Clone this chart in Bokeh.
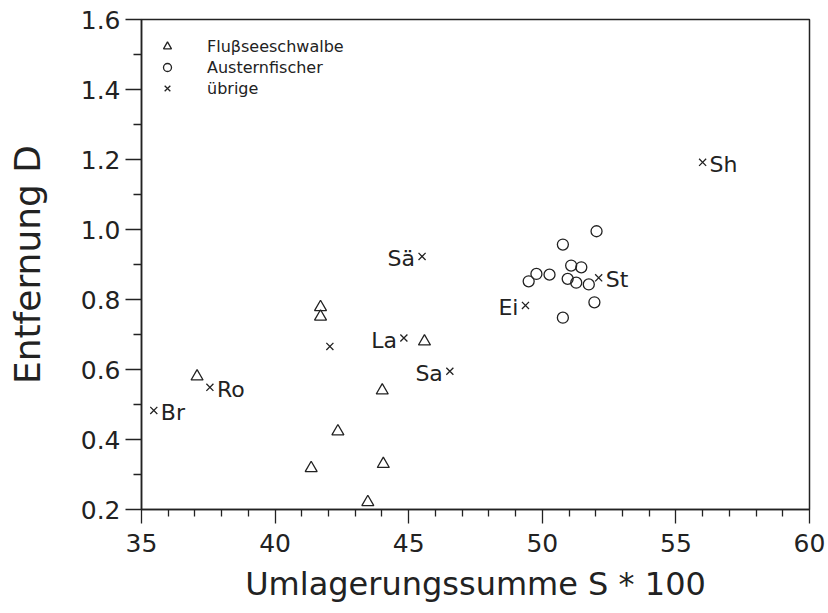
from bokeh.plotting import figure
from bokeh.models import FixedTicker, PrintfTickFormatter, Legend, LegendItem, Range1d
from bokeh.core.properties import value
from bokeh.embed import file_html
from bokeh.resources import INLINE

# --- data ---
tern_x = [37.08, 41.70, 41.70, 45.59, 44.01, 42.35, 41.35, 44.05, 43.47]
tern_y = [0.580, 0.778, 0.751, 0.680, 0.540, 0.423, 0.318, 0.330, 0.221]

oyster_x = [52.03, 50.77, 51.08, 51.46, 49.49, 49.78, 50.27, 50.95, 51.27, 51.74, 51.95, 50.77]
oyster_y = [0.995, 0.957, 0.897, 0.892, 0.852, 0.873, 0.871, 0.859, 0.848, 0.843, 0.792, 0.748]

other_x = [35.46, 37.56, 42.05, 44.82, 46.54, 45.50, 49.37, 52.11, 56.00]
other_y = [0.483, 0.549, 0.666, 0.690, 0.595, 0.923, 0.783, 0.862, 1.192]
other_names = ["Br", "Ro", "", "La", "Sa", "Sä", "Ei", "St", "Sh"]
label_right = [True, True, True, False, False, False, False, True, True]

x_ticks = [35, 40, 45, 50, 55, 60]
y_ticks = [0.2, 0.4, 0.6, 0.8, 1.0, 1.2, 1.4, 1.6]
x_minor = [36, 37, 38, 39, 41, 42, 43, 44, 46, 47, 48, 49, 51, 52, 53, 54, 56, 57, 58, 59]
y_minor = [0.3, 0.5, 0.7, 0.9, 1.1, 1.3, 1.5]

series_names = ["Flu\u03b2seeschwalbe", "Austernfischer", "übrige"]
x_title = "Umlagerungssumme S * 100"
y_title = "Entfernung D"

FONT = "DejaVu Sans"
INK = "#222222"

p = figure(width=828, height=613, output_backend="svg", toolbar_location=None,
           x_range=Range1d(35, 60), y_range=Range1d(0.2, 1.6))
p.min_border_left = 141
p.min_border_right = 19
p.min_border_top = 19
p.min_border_bottom = 104
p.background_fill_color = "white"
p.border_fill_color = "white"
p.outline_line_color = INK
p.outline_line_width = 1.5
p.xgrid.visible = False
p.ygrid.visible = False

r_tern = p.scatter(tern_x, tern_y, marker="triangle", size=12, fill_color=None,
                   line_color=INK, line_width=1.3)
r_oys = p.scatter(oyster_x, oyster_y, marker="circle", size=11, fill_color=None,
                  line_color=INK, line_width=1.3)
r_oth = p.scatter(other_x, other_y, marker="x", size=10, line_color=INK, line_width=1.3)

rx = [x for x, n, r in zip(other_x, other_names, label_right) if r and n]
ry = [y for y, n, r in zip(other_y, other_names, label_right) if r and n]
rn = [n for n, r in zip(other_names, label_right) if r and n]
lx = [x for x, n, r in zip(other_x, other_names, label_right) if (not r) and n]
ly = [y for y, n, r in zip(other_y, other_names, label_right) if (not r) and n]
ln = [n for n, r in zip(other_names, label_right) if (not r) and n]

p.text(x=rx, y=ry, text=rn, x_offset=7, y_offset=2, text_align="left", text_baseline="middle",
       text_font=value(FONT), text_font_size="22px", text_color=INK)
p.text(x=lx, y=ly, text=ln, x_offset=-7, y_offset=2, text_align="right", text_baseline="middle",
       text_font=value(FONT), text_font_size="22px", text_color=INK)

for ax in (p.xaxis[0], p.yaxis[0]):
    ax.axis_line_color = INK
    ax.axis_line_width = 1.5
    ax.major_tick_line_color = INK
    ax.minor_tick_line_color = INK
    ax.major_tick_line_width = 1.3
    ax.minor_tick_line_width = 1.3
    ax.major_tick_in = 0
    ax.minor_tick_in = 0
    ax.major_label_text_font = FONT
    ax.major_label_text_font_size = "25px"
    ax.major_label_text_color = INK
    ax.axis_label_text_font = FONT
    ax.axis_label_text_font_style = "normal"
    ax.axis_label_text_color = INK

p.xaxis.axis_label_text_font_size = "32px"
p.yaxis.axis_label_text_font_size = "36px"
p.xaxis.ticker = FixedTicker(ticks=x_ticks, minor_ticks=x_minor)
p.yaxis.ticker = FixedTicker(ticks=y_ticks, minor_ticks=y_minor)
p.xaxis.formatter = PrintfTickFormatter(format="%d")
p.yaxis.formatter = PrintfTickFormatter(format="%.1f")
p.xaxis.major_tick_out = 14
p.xaxis.minor_tick_out = 7
p.yaxis.major_tick_out = 16
p.yaxis.minor_tick_out = 8
p.xaxis.major_label_standoff = 10
p.yaxis.major_label_standoff = 5
p.xaxis.axis_label = x_title
p.yaxis.axis_label = y_title
p.xaxis.axis_label_standoff = 10
p.yaxis.axis_label_standoff = 30

legend = Legend(items=[LegendItem(label=series_names[0], renderers=[r_tern]),
                       LegendItem(label=series_names[1], renderers=[r_oys]),
                       LegendItem(label=series_names[2], renderers=[r_oth])],
                location=(16, 411), margin=0, padding=5, spacing=1,
                glyph_width=20, glyph_height=20, label_height=20,
                label_standoff=30, label_text_font=FONT, label_text_font_size="16px",
                label_text_color=INK, border_line_color=None, background_fill_alpha=0)
p.add_layout(legend)

open("out.html", "w").write(file_html(p, INLINE))
